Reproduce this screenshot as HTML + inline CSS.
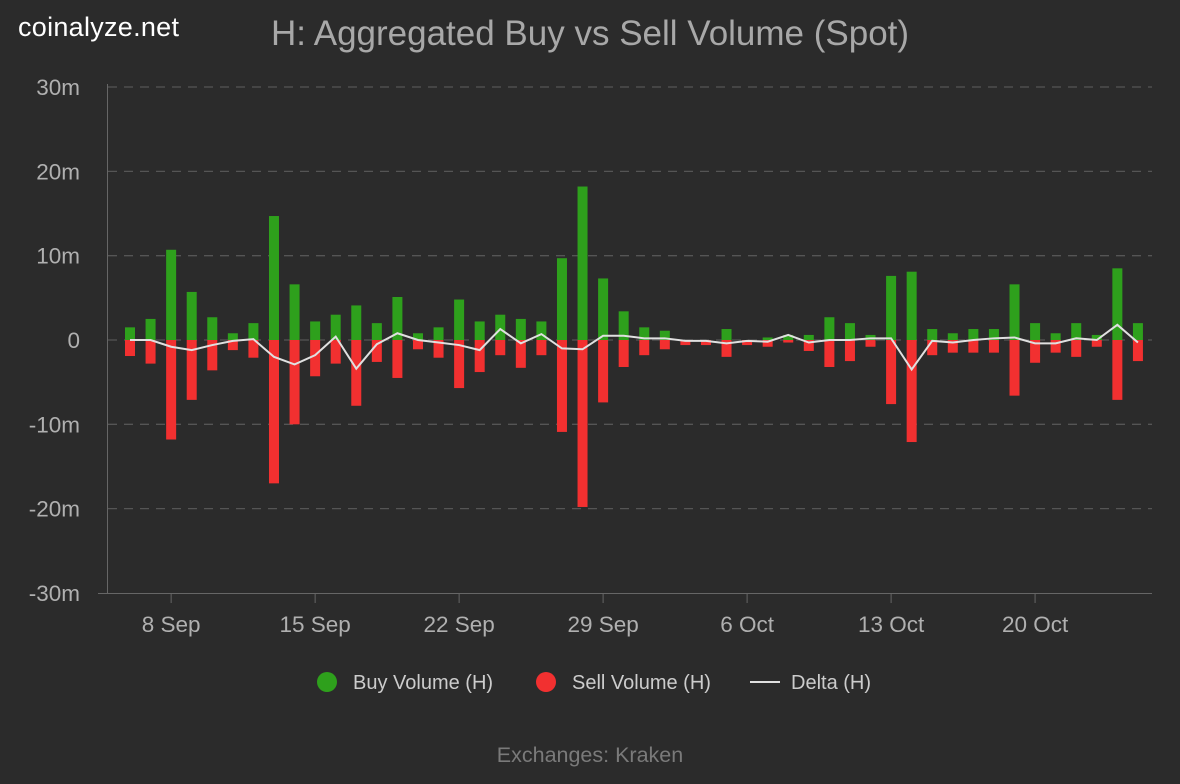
<!DOCTYPE html>
<html><head><meta charset="utf-8"><style>
body{margin:0;background:#2b2b2b;width:1180px;height:784px;overflow:hidden;font-family:"Liberation Sans",sans-serif}
</style></head><body>
<svg id="c" width="1180" height="784" style="position:absolute;left:0;top:0">
<rect width="1180" height="784" fill="#2b2b2b"/>
<text x="18" y="36" fill="#ffffff" font-size="27" textLength="161">coinalyze.net</text>
<text x="590" y="45" fill="#a8a8a8" font-size="35" text-anchor="middle">H: Aggregated Buy vs Sell Volume (Spot)</text>
<g id="grid"></g><g id="bars"></g><g id="line"></g><g id="axes"></g>
<g>
<g><circle cx="327" cy="682" r="10" fill="#2ea01c"/><text x="353" y="689" fill="#cccccc" font-size="20">Buy Volume (H)</text></g>
<g><circle cx="546" cy="682" r="10" fill="#f23030"/><text x="572" y="689" fill="#cccccc" font-size="20">Sell Volume (H)</text></g>
<g><line x1="750" y1="682" x2="780" y2="682" stroke="#e0e0e0" stroke-width="2"/><text x="791" y="689" fill="#cccccc" font-size="20">Delta (H)</text></g>
</g>
<text x="590" y="762" fill="#7a7a7a" font-size="21.5" text-anchor="middle">Exchanges: Kraken</text>
</svg>
<script>
const buy=[1.5,2.5,10.7,5.7,2.7,0.8,2.0,14.7,6.6,2.2,3.0,4.1,2.0,5.1,0.8,1.5,4.8,2.2,3.0,2.5,2.2,9.7,18.2,7.3,3.4,1.5,1.1,0,0,1.3,0,0.3,0.6,0.6,2.7,2.0,0.6,7.6,8.1,1.3,0.8,1.3,1.3,6.6,2.0,0.8,2.0,0.6,8.5,2.0];
const sell=[-1.9,-2.8,-11.8,-7.1,-3.6,-1.2,-2.1,-17.0,-10.0,-4.3,-2.8,-7.8,-2.6,-4.5,-1.1,-2.1,-5.7,-3.8,-1.8,-3.3,-1.8,-10.9,-19.8,-7.4,-3.2,-1.8,-1.1,-0.6,-0.6,-2.0,-0.6,-0.8,-0.3,-1.3,-3.2,-2.5,-0.8,-7.6,-12.1,-1.8,-1.5,-1.5,-1.5,-6.6,-2.7,-1.5,-2.0,-0.8,-7.1,-2.5];
const delta=[0,0,-0.8,-1.2,-0.6,-0.1,0.1,-2.0,-2.9,-1.8,0.4,-3.4,-0.5,0.8,0,-0.3,-0.6,-1.2,1.3,-0.4,0.7,-1.0,-1.1,0.5,0.5,0.2,0.2,-0.1,-0.1,-0.4,-0.1,-0.2,0.6,-0.3,0,0,0.2,0.2,-3.5,-0.1,-0.3,0,0.2,0.3,-0.4,-0.4,0.2,0,1.8,-0.3];
const yTicks=[30,20,10,0,-10,-20,-30];
const xTickLabels=["8 Sep","15 Sep","22 Sep","29 Sep","6 Oct","13 Oct","20 Oct"];
const xTickIdx=[2,9,16,23,30,37,44];
const NS="http://www.w3.org/2000/svg";
const X=i=>130+i*20.57;
const Y=v=>340-v*8.433;
function mk(t,a,p){const e=document.createElementNS(NS,t);for(const k in a)e.setAttribute(k,a[k]);p.appendChild(e);return e;}
const grid=document.getElementById('grid'),bars=document.getElementById('bars'),axes=document.getElementById('axes'),line=document.getElementById('line');
yTicks.forEach(v=>{
 if(v!==-30){const g=mk('line',{x1:108,x2:1152,y1:Y(v),y2:Y(v),stroke:'#555','stroke-dasharray':'9,7','stroke-width':1.3},grid);
 
 }
 const t=mk('text',{x:80,y:Y(v)+8,fill:'#b0b0b0','font-size':22.5,'text-anchor':'end'},axes);
 t.textContent=v===0?'0':v+'m';
 
 
});
const ax=mk('line',{x1:107.5,x2:107.5,y1:84,y2:593,stroke:'#666','stroke-width':1},axes);


const bx=mk('line',{x1:98,x2:1152,y1:593.5,y2:593.5,stroke:'#666','stroke-width':1},axes);


xTickIdx.forEach((i,k)=>{
 const tk=mk('line',{x1:X(i),x2:X(i),y1:594,y2:603,stroke:'#666'},axes);
 
 
 const t=mk('text',{x:X(i),y:632,fill:'#b0b0b0','font-size':22.5,'text-anchor':'middle'},axes);
 t.textContent=xTickLabels[k];
 
 
});
buy.forEach((v,i)=>{
 const b=mk('rect',{x:X(i)-5,y:Y(v),width:10,height:Y(0)-Y(v),fill:'#2ea01c'},bars);
 
 
});
sell.forEach((v,i)=>{
 const b=mk('rect',{x:X(i)-5,y:Y(0),width:10,height:Y(v)-Y(0),fill:'#f23030'},bars);
 
 
});
const p=mk('polyline',{points:delta.map((v,i)=>X(i)+','+Y(v)).join(' '),fill:'none',stroke:'#e0e0e0','stroke-width':2},line);


</script>
</body></html>
